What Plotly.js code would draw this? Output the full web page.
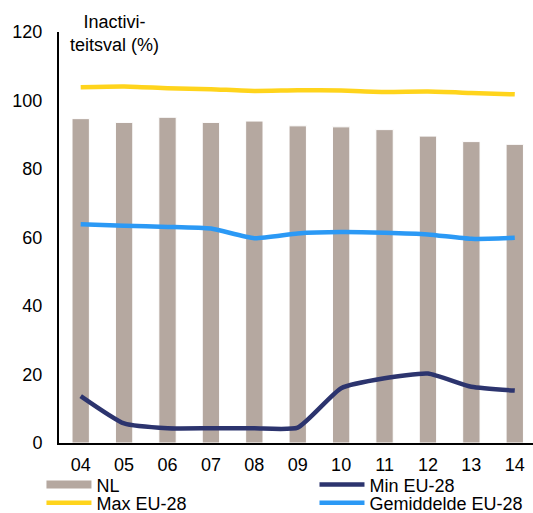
<!DOCTYPE html>
<html>
<head>
<meta charset="utf-8">
<script src="https://cdn.plot.ly/plotly-3.0.1.min.js"></script>
<style>html,body{margin:0;padding:0;background:#fff}#chart{width:533px;height:513px}</style>
</head>
<body>
<div id="chart"></div>
<script>
const years = ["04","05","06","07","08","09","10","11","12","13","14"];
const nl = [94.7,93.6,95.1,93.6,94.0,92.6,92.3,91.5,89.6,88.0,87.2];
const maxEU = [103.9,104.1,103.6,103.3,102.8,103.0,102.9,102.5,102.6,102.2,101.8];
const minEU = [13.7,5.7,4.3,4.3,4.3,4.5,16.0,18.9,20.3,16.4,15.3];
const avgEU = [63.9,63.4,63.1,62.6,59.8,61.2,61.6,61.4,60.9,59.6,59.9];
const yTicks = [0,20,40,60,80,100,120];

const FONT = "Liberation Sans, Arial, sans-serif";
const cBar = "#b5a8a0", cMax = "#ffd41c", cMin = "#2c346e", cAvg = "#2b99f5";

const traces = [
  {type:"bar", x:years, y:nl, name:"NL", marker:{color:cBar, line:{color:"#ffffff", width:1}}, showlegend:false, hoverinfo:"x+y"},
  {type:"scatter", mode:"lines", x:[null], y:[null], name:"NL", line:{color:cBar, width:8}, legend:"legend", hoverinfo:"skip"},
  {type:"scatter", mode:"lines", x:years, y:minEU, name:"Min EU-28", line:{color:cMin, width:4.5, shape:"spline", smoothing:0.5}, legend:"legend2"},
  {type:"scatter", mode:"lines", x:years, y:maxEU, name:"Max EU-28", line:{color:cMax, width:4.5, shape:"spline", smoothing:0.5}, legend:"legend3"},
  {type:"scatter", mode:"lines", x:years, y:avgEU, name:"Gemiddelde EU-28", line:{color:cAvg, width:4.5, shape:"spline", smoothing:0.5}, legend:"legend4"}
];

const lg = (x, y) => ({x:x, y:y, xanchor:"left", yanchor:"middle", orientation:"h", bgcolor:"rgba(0,0,0,0)", itemwidth:45, font:{family:FONT, size:18, color:"#000"}});

const layout = {
  width:533, height:513,
  margin:{l:59, r:0, t:32, b:70, autoexpand:false},
  paper_bgcolor:"#fff", plot_bgcolor:"#fff",
  font:{family:FONT, size:18, color:"#000"},
  bargap:0.6,
  xaxis:{type:"category", range:[-0.5,10.42], showgrid:false, zeroline:false, showline:true, linecolor:"#000", linewidth:2, ticks:"", ticklabelstandoff:4, tickfont:{size:18}},
  yaxis:{range:[0,120], tickvals:yTicks, showgrid:false, zeroline:false, showline:true, linecolor:"#000", linewidth:2, ticks:"", ticklabelstandoff:11, tickfont:{size:18}},
  legend: lg(-0.037, -0.102),
  legend2: lg(0.539, -0.102),
  legend3: lg(-0.037, -0.146),
  legend4: lg(0.539, -0.146),
  annotations:[{xref:"paper", yref:"paper", x:0.117, y:0.996, xanchor:"center", yanchor:"middle", showarrow:false, align:"center", text:"Inactivi-<br>teitsval (%)", font:{family:FONT, size:18, color:"#000"}}]
};

Plotly.newPlot("chart", traces, layout, {displayModeBar:false, staticPlot:true});
</script>
</body>
</html>
